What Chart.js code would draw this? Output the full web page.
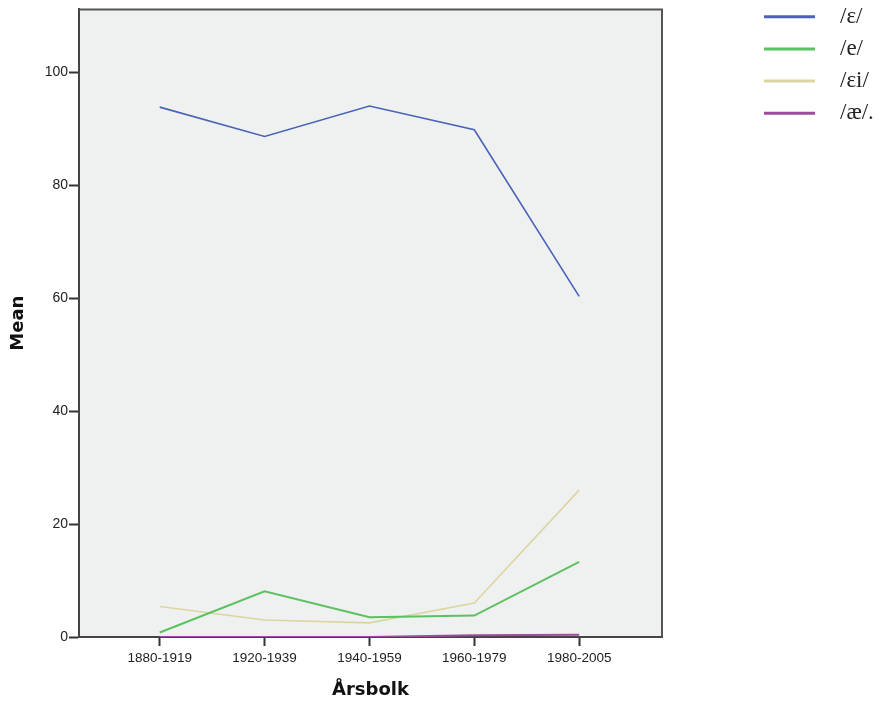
<!DOCTYPE html>
<html>
<head>
<meta charset="utf-8">
<script src="https://cdn.jsdelivr.net/npm/chart.js@4/dist/chart.umd.min.js"></script>
<style>
  html, body { margin: 0; padding: 0; background: #fff; }
  #wrap { width: 883px; height: 702px; }
</style>
</head>
<body>
<div id="wrap"><canvas id="chart" width="883" height="702"></canvas></div>
<script>
// data
const periods = ['1880-1919', '1920-1939', '1940-1959', '1960-1979', '1980-2005'];
const seriesNames = ['/ε/', '/e/', '/εi/', '/æ/.'];
const epsilonMean = [93.8, 88.6, 94.0, 89.8, 60.3];
const eMean = [0.8, 8.1, 3.5, 3.8, 13.3];
const epsilonIMean = [5.4, 3.0, 2.5, 6.0, 26.0];
const aeMean = [0.0, 0.0, 0.0, 0.3, 0.4];
const yTicks = [0, 20, 40, 60, 80, 100];

const colors = ['#4a63b9', '#5cc160', '#dcd5a2', '#9c4c9c'];
const widths = [1.6, 2, 1.6, 2];

const allSeries = [epsilonMean, eMean, epsilonIMean, aeMean];
const datasets = allSeries.map((vals, i) => ({
  label: seriesNames[i],
  data: vals.map((v, j) => ({ x: j, y: v })),
  borderColor: colors[i],
  borderWidth: widths[i],
  pointRadius: 0,
  fill: false,
  tension: 0
}));

// plot background, top/right frame and the legend on the right
const frame = {
  id: 'frame',
  beforeDraw(chart) {
    const { ctx, chartArea: a } = chart;
    ctx.save();
    ctx.fillStyle = '#eff1f0';
    ctx.fillRect(a.left, a.top, a.right - a.left, a.bottom - a.top);
    ctx.restore();
  },
  afterDraw(chart) {
    const { ctx, chartArea: a } = chart;
    ctx.save();
    ctx.strokeStyle = '#555';
    ctx.lineWidth = 2;
    ctx.beginPath();
    ctx.moveTo(a.left, a.top);
    ctx.lineTo(a.right, a.top);
    ctx.lineTo(a.right, a.bottom);
    ctx.stroke();
    chart.data.datasets.forEach((ds, i) => {
      const y = 16.7 + i * 32.2;
      ctx.strokeStyle = ds.borderColor;
      ctx.lineWidth = 3;
      ctx.beginPath();
      ctx.moveTo(764, y);
      ctx.lineTo(815, y);
      ctx.stroke();
      ctx.fillStyle = '#222';
      ctx.font = '23px "Liberation Serif", serif';
      ctx.textBaseline = 'middle';
      ctx.fillText(ds.label, 840, y);
    });
    ctx.restore();
  }
};

new Chart(document.getElementById('chart').getContext('2d'), {
  type: 'line',
  data: { datasets },
  options: {
    responsive: false,
    animation: false,
    layout: { padding: { top: 7, right: 221, left: 0, bottom: 0 } },
    plugins: { legend: { display: false }, tooltip: { enabled: false } },
    scales: {
      x: {
        type: 'linear',
        min: -0.77,
        max: 4.79,
        afterBuildTicks: s => { s.ticks = periods.map((p, i) => ({ value: i })); },
        afterFit: s => { s.height = 65; },
        ticks: {
          callback: v => periods[v],
          color: '#222',
          font: { family: '"Liberation Sans", Arial', size: 13.5 },
          padding: 4,
          maxRotation: 0
        },
        grid: { drawOnChartArea: false, drawTicks: true, tickLength: 9, tickColor: '#333', tickWidth: 2 },
        border: { display: true, color: '#444', width: 2 },
        title: {
          display: true,
          text: 'Årsbolk',
          color: '#111',
          font: { family: '"DejaVu Sans", sans-serif', size: 18, weight: 'bold' },
          padding: { top: 8, bottom: 1 }
        }
      },
      y: {
        min: 0,
        max: 111.1,
        afterBuildTicks: s => { s.ticks = yTicks.map(v => ({ value: v })); },
        afterFit: s => { s.width = 79; },
        ticks: {
          color: '#222',
          font: { family: '"Liberation Sans", Arial', size: 14 },
          padding: 1
        },
        grid: { drawOnChartArea: false, drawTicks: true, tickLength: 10, tickColor: '#333', tickWidth: 2 },
        border: { display: true, color: '#444', width: 2 },
        title: {
          display: true,
          text: 'Mean',
          color: '#111',
          font: { family: '"DejaVu Sans", sans-serif', size: 18, weight: 'bold' },
          padding: { top: 8, bottom: 0 }
        }
      }
    }
  },
  plugins: [frame]
});
</script>
</body>
</html>
